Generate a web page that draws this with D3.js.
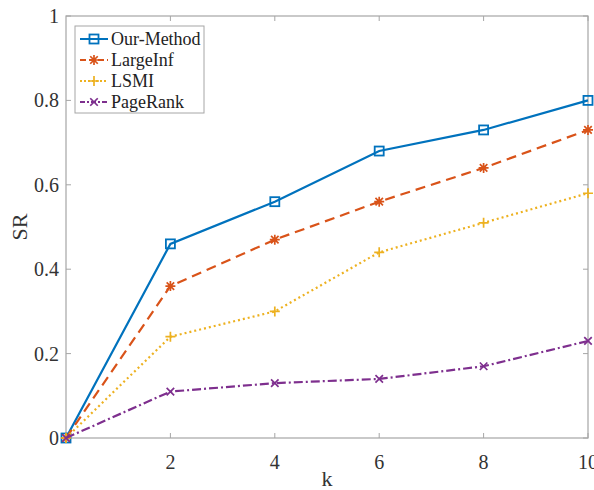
<!DOCTYPE html>
<html><head><meta charset="utf-8">
<script src="https://cdn.jsdelivr.net/npm/d3@7"></script>
<style>body{margin:0;background:#fff}</style>
</head><body>
<script>
const kValues = [0, 2, 4, 6, 8, 10];
const seriesNames = ["Our-Method", "LargeInf", "LSMI", "PageRank"];
const ourMethod = [0, 0.46, 0.56, 0.68, 0.73, 0.80];
const largeInf = [0, 0.36, 0.47, 0.56, 0.64, 0.73];
const lsmi = [0, 0.24, 0.30, 0.44, 0.51, 0.58];
const pageRank = [0, 0.11, 0.13, 0.14, 0.17, 0.23];
const xTicks = [2, 4, 6, 8, 10];
const yTicks = [0, 0.2, 0.4, 0.6, 0.8, 1];

const colors = ["#0072BD", "#D95319", "#EDB120", "#7E2F8E"];
const dashes = [null, "10,6", "2,3", "9,3,2,3"];
const markers = ["square", "asterisk", "plus", "cross"];
const allSeries = [ourMethod, largeInf, lsmi, pageRank];

const W = 594, H = 490;
const m = {l: 66, r: 6, t: 16, b: 52};
const svg = d3.select("body").append("svg").attr("width", W).attr("height", H);
const x = d3.scaleLinear().domain([0, 10]).range([m.l, W - m.r]);
const y = d3.scaleLinear().domain([0, 1]).range([H - m.b, m.t]);
const axisColor = "#a6a6a6";
const font = "'Liberation Serif', 'Times New Roman', serif";

svg.append("rect").attr("x", x(0)).attr("y", y(1)).attr("width", x(10) - x(0)).attr("height", y(0) - y(1))
  .attr("fill", "none").attr("stroke", axisColor).attr("stroke-width", 1.2);

const tl = 5;
const g = svg.append("g");
xTicks.forEach(t => {
  g.append("line").attr("x1", x(t)).attr("x2", x(t)).attr("y1", y(0)).attr("y2", y(0) - tl).attr("stroke", axisColor);
  g.append("line").attr("x1", x(t)).attr("x2", x(t)).attr("y1", y(1)).attr("y2", y(1) + tl).attr("stroke", axisColor);
  g.append("text").attr("x", x(t)).attr("y", y(0) + 31).attr("text-anchor", "middle")
    .attr("font-family", font).attr("font-size", 20).attr("fill", "#333").text(t);
});
yTicks.forEach(t => {
  g.append("line").attr("x1", x(0)).attr("x2", x(0) + tl).attr("y1", y(t)).attr("y2", y(t)).attr("stroke", axisColor);
  g.append("line").attr("x1", x(10)).attr("x2", x(10) - tl).attr("y1", y(t)).attr("y2", y(t)).attr("stroke", axisColor);
  g.append("text").attr("x", x(0) - 7).attr("y", y(t)).attr("dy", "0.35em").attr("text-anchor", "end")
    .attr("font-family", font).attr("font-size", 20).attr("fill", "#333").text(d3.format("~g")(t));
});
svg.append("text").attr("x", (x(0) + x(10)) / 2).attr("y", H - 4).attr("text-anchor", "middle")
  .attr("font-family", font).attr("font-size", 22).attr("fill", "#333").text("k");
svg.append("text").attr("transform", `translate(${27},${(y(0) + y(1)) / 2}) rotate(-90)`).attr("text-anchor", "middle")
  .attr("font-family", font).attr("font-size", 22).attr("fill", "#333").text("SR");

function drawMarker(sel, type, cx, cy, color) {
  const s = 5;
  if (type === "square") {
    sel.append("rect").attr("x", cx - 4.5).attr("y", cy - 4.5).attr("width", 9).attr("height", 9)
      .attr("fill", "none").attr("stroke", color).attr("stroke-width", 1.8);
  } else {
    const p = d3.path();
    if (type === "plus" || type === "asterisk") {
      p.moveTo(cx - s, cy); p.lineTo(cx + s, cy);
      p.moveTo(cx, cy - s); p.lineTo(cx, cy + s);
    }
    if (type === "cross" || type === "asterisk") {
      const d = s * 0.75;
      p.moveTo(cx - d, cy - d); p.lineTo(cx + d, cy + d);
      p.moveTo(cx - d, cy + d); p.lineTo(cx + d, cy - d);
    }
    sel.append("path").attr("d", p.toString()).attr("stroke", color).attr("stroke-width", 1.7).attr("fill", "none");
  }
}

const line = d3.line().x((d, i) => x(kValues[i])).y(d => y(d));
allSeries.forEach((vals, si) => {
  const gs = svg.append("g");
  gs.append("path").attr("d", line(vals)).attr("fill", "none").attr("stroke", colors[si])
    .attr("stroke-width", 2.2).attr("stroke-dasharray", dashes[si]);
  vals.forEach((v, i) => drawMarker(gs, markers[si], x(kValues[i]), y(v), colors[si]));
});

const lg = svg.append("g");
lg.append("rect").attr("x", 75).attr("y", 26).attr("width", 129).attr("height", 87)
  .attr("fill", "#fff").attr("stroke", axisColor);
seriesNames.forEach((name, i) => {
  const cy = 39 + i * 21;
  lg.append("line").attr("x1", 80).attr("x2", 108).attr("y1", cy).attr("y2", cy)
    .attr("stroke", colors[i]).attr("stroke-width", 2).attr("stroke-dasharray", dashes[i] ? (i === 1 ? "6,3" : i === 2 ? "2,2" : "5,2,2,2") : null);
  drawMarker(lg, markers[i], 94, cy, colors[i]);
  lg.append("text").attr("x", 111).attr("y", cy).attr("dy", "0.35em").attr("font-family", font)
    .attr("font-size", 18).attr("fill", "#222").text(name);
});
</script>
</body></html>
